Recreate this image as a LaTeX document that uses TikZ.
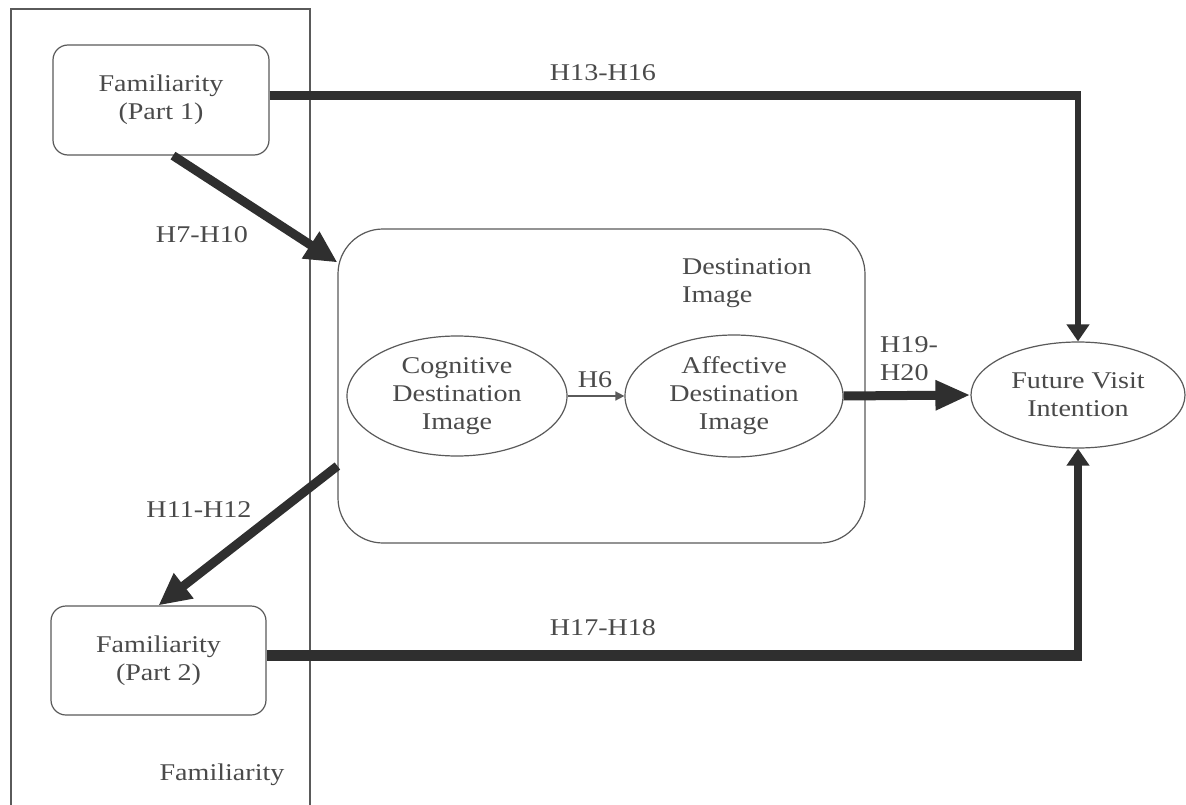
\documentclass[tikz,border=0pt]{standalone}
\usepackage{fontspec}
\setmainfont{Liberation Serif}[FakeStretch=1.17]
\usetikzlibrary{arrows.meta,shapes.geometric,calc}
\definecolor{inkline}{HTML}{2F2F2F}
\definecolor{inktext}{HTML}{4A4A4A}
\definecolor{frameline}{HTML}{5A5A5A}
\begin{document}
\begin{tikzpicture}[x=1pt,y=-1pt,
  every node/.style={text=inktext,font=\fontsize{24}{28}\selectfont,inner sep=0pt},
  roundbox/.style={draw=frameline,line width=1.2pt,rounded corners=15pt,align=center},
  oval/.style={draw=frameline,line width=1.2pt,ellipse,align=center},
  heavy/.style={draw=inkline,line width=9pt},
  medium/.style={draw=inkline,line width=6pt},
  bighead/.style={-{Triangle[length=32pt,width=30pt]}},
  smallhead/.style={-{Triangle[length=17pt,width=22pt]}},
  hyp/.style={text=inktext}]
\useasboundingbox (0,0) rectangle (1186,805);
\fill[white] (0,0) rectangle (1186,805);

% frame of the familiarity construct (runs off the lower edge)
\draw[frameline,line width=1.2pt] (11,805) -- (11,9) -- (310,9) -- (310,805);
\node (famlabel) at (222,775) {Familiarity};

% familiarity measured before and after
\node[roundbox,minimum width=216pt,minimum height=110pt] (fam1) at (161,100) {Familiarity\\(Part 1)};
\node[roundbox,minimum width=215pt,minimum height=109pt] (fam2) at (158.5,660.5) {Familiarity\\(Part 2)};

% destination image container
\node[draw=frameline,line width=1.2pt,rounded corners=45pt,minimum width=527pt,minimum height=314pt] (dest) at (601.5,386) {};
\node[anchor=west,align=left] (destlabel) at (682,283) {Destination\\Image};

\node[oval,minimum width=220pt,minimum height=120pt] (cog) at (457,396) {Cognitive\\Destination\\Image};
\node[oval,minimum width=218pt,minimum height=122pt] (aff) at (734,396) {Affective\\Destination\\Image};

% outcome
\node[oval,minimum width=214pt,minimum height=106pt] (fvi) at (1078,395) {Future Visit\\Intention};

% hypothesised paths
\coordinate (topcorner) at ([yshift=4pt]fam1.east -| fvi.north);
\draw[heavy,shorten >=-3pt] ([yshift=4pt]fam1.east) -- (topcorner);
\draw[medium,smallhead] (topcorner) -- (fvi.north);
\node[hyp] (h13) at (603,73) {H13-H16};

\coordinate (botcorner) at ([yshift=5pt]fam2.east -| fvi.south);
\draw[draw=inkline,line width=11pt,shorten >=-4pt] ([yshift=5pt]fam2.east) -- (botcorner);
\draw[draw=inkline,line width=8pt,smallhead,shorten <=-5.5pt] (botcorner) -- (fvi.south);
\node[hyp] (h17) at (603,628) {H17-H18};

\draw[heavy,bighead] ([xshift=12pt]fam1.south) -- ([yshift=-34pt]dest.north west);
\node[hyp] (h7) at (202,235) {H7-H10};

\draw[heavy,bighead] ([yshift=-80pt]dest.west) -- (fam2.north);
\node[hyp] (h11) at (199,510) {H11-H12};

\draw[draw=frameline,line width=1.5pt,-{Triangle[length=9pt,width=9pt]}] (cog.east) -- (aff.west);
\node[hyp] (h6) at (595,380) {H6};

\draw[heavy,-{Triangle[length=35pt,width=28pt]}] (aff.east) -- (fvi.west);
\node[hyp,anchor=west,align=left] (h19) at (880,359) {H19-\\H20};
\end{tikzpicture}
\end{document}
